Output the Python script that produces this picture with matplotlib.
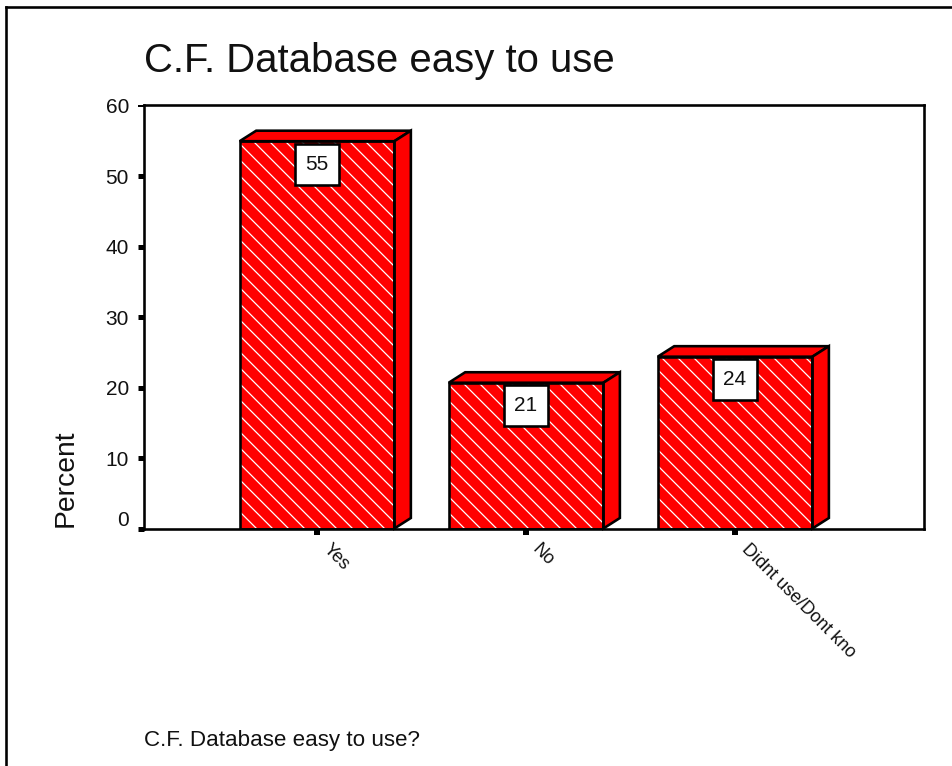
import matplotlib
matplotlib.use('Agg')
import matplotlib.pyplot as plt
from matplotlib.lines import Line2D
from matplotlib.patches import Polygon
from matplotlib.transforms import ScaledTranslation, IdentityTransform

categories = ['Yes', 'No', 'Didnt use/Dont kno']
percents = [55.0, 20.7, 24.4]
y_ticks = [0, 10, 20, 30, 40, 50, 60]

W, H = 952, 766
DPI = 96  # hatch tile follows dpi, 96 gives the 16 px spacing of the reference
PX = 72.0 / DPI  # one pixel in points
LW = 2.6 * PX

plt.rcParams['font.family'] = ['Liberation Sans', 'DejaVu Sans']
plt.rcParams['hatch.linewidth'] = 1.25 * PX
plt.rcParams['hatch.color'] = 'white'

fig = plt.figure(figsize=(W / DPI, H / DPI), dpi=DPI, facecolor='white')

# axes box, given in pixels of the picture
left, right, top, bottom = 144, 924, 105, 529
ax = fig.add_axes([left / W, 1 - bottom / H, (right - left) / W, (bottom - top) / H])

for s in ax.spines.values():
    s.set_linewidth(LW)

xs = list(range(len(categories)))
bar_w = 0.74
ax.set_xlim(-0.8278, 2.904)
ax.set_ylim(-0.07, 60.14)

# front faces
ax.bar(xs, percents, width=bar_w, color='#ff0000', edgecolor='white', hatch='\\\\', linewidth=0, zorder=2)
ax.bar(xs, percents, width=bar_w, fill=False, edgecolor='black', linewidth=LW, zorder=4)

# fake 3D sides, offset in pixels from the bar corners
fig.canvas.draw()
dx, dy = 16.5, 10.5
for x, v in zip(xs, percents):
    (x0, y0) = ax.transData.transform((x - bar_w / 2, 0))
    (x1, y1) = ax.transData.transform((x + bar_w / 2, v))
    roof = [(x0, y1), (x1, y1), (x1 + dx, y1 + dy), (x0 + dx, y1 + dy)]
    side = [(x1, y0), (x1, y1), (x1 + dx, y1 + dy), (x1 + dx, y0 + dy)]
    for pts in (roof, side):
        ax.add_patch(Polygon(pts, closed=True, facecolor='#ff0000', edgecolor='black',
                             linewidth=LW, joinstyle='miter',
                             transform=IdentityTransform(), zorder=3, clip_on=False))

# value boxes
for x, v in zip(xs, percents):
    ax.annotate('%.0f' % v, xy=(x, v), xytext=(0, -23), textcoords='offset pixels',
                ha='center', va='center', fontsize=20.83 * PX, color='#111111', zorder=5,
                bbox=dict(boxstyle='square,pad=0.52', facecolor='white', edgecolor='black',
                          linewidth=LW))

ax.set_yticks(y_ticks)
ax.tick_params(axis='y', length=6 * PX, width=5 * PX, pad=9 * PX, labelsize=20.83 * PX, labelcolor='#111111')
ax.tick_params(axis='x', length=6 * PX, width=6 * PX, pad=12 * PX)
ax.yaxis.get_major_ticks()[-1].tick1line.set_markeredgewidth(2 * PX)

# the zero label sits higher than its tick
zero_label = ax.yaxis.get_major_ticks()[0].label1
zero_label.set_transform(zero_label.get_transform() + ScaledTranslation(0, 10 * PX / 72, fig.dpi_scale_trans))

ax.set_xticks(xs)
ax.set_xticklabels(categories, rotation=-45, rotation_mode='anchor', ha='left', va='center',
                   fontsize=18.06 * PX, color='#111111')
for lab in ax.get_xticklabels():
    lab.set_transform(lab.get_transform() + ScaledTranslation(9 * PX / 72, 0, fig.dpi_scale_trans))

# outer frame, only top and left
fig.add_artist(Line2D([6 / W, 6 / W], [0, 1 - 6.5 / H], color='black', lw=LW))
fig.add_artist(Line2D([6 / W, 1], [1 - 6.5 / H, 1 - 6.5 / H], color='black', lw=LW))

fig.text(144 / W, 1 - 72 / H, 'C.F. Database easy to use', fontsize=40.07 * PX, va='baseline', ha='left', color='#111111')
fig.text(144 / W, 1 - 746 / H, 'C.F. Database easy to use?', fontsize=22.4 * PX, va='baseline', ha='left', color='#111111')
fig.text(66 / W, 1 - 478 / H, 'Percent', fontsize=28.2 * PX, rotation=90, va='center', ha='center', color='#111111')

fig.savefig('out.png', dpi=DPI)
